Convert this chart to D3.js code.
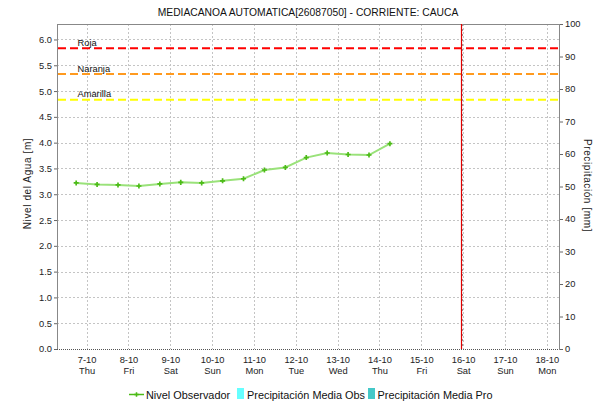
<!DOCTYPE html>
<html>
<head>
<meta charset="utf-8">
<script src="https://cdn.jsdelivr.net/npm/d3@7"></script>
<style>
  html, body { margin: 0; padding: 0; background: #fff; }
  svg { display: block; font-family: "Liberation Sans", Arial, sans-serif; }
</style>
</head>
<body>
<svg id="chart" width="593" height="404"></svg>
<script>
// Station level readings (every 12 h) and the alert thresholds
const readingTimes = [
  "2021-10-06 18:00", "2021-10-07 06:00", "2021-10-07 18:00", "2021-10-08 06:00",
  "2021-10-08 18:00", "2021-10-09 06:00", "2021-10-09 18:00", "2021-10-10 06:00",
  "2021-10-10 18:00", "2021-10-11 06:00", "2021-10-11 18:00", "2021-10-12 06:00",
  "2021-10-12 18:00", "2021-10-13 06:00", "2021-10-13 18:00", "2021-10-14 06:00"
];
const nivelObservador = [3.22, 3.19, 3.18, 3.16, 3.20, 3.23, 3.22, 3.26,
                         3.30, 3.47, 3.52, 3.71, 3.80, 3.77, 3.76, 3.98];

const alertNames = ["Roja", "Naranja", "Amarilla"];
const alertLevels = [5.83, 5.33, 4.83];
const alertColors = ["#ff0000", "#ff9a1f", "#ffff00"];

const tickDates = ["2021-10-07", "2021-10-08", "2021-10-09", "2021-10-10", "2021-10-11", "2021-10-12",
                   "2021-10-13", "2021-10-14", "2021-10-15", "2021-10-16", "2021-10-17", "2021-10-18"];
const tickDayLabels = ["7-10", "8-10", "9-10", "10-10", "11-10", "12-10",
                       "13-10", "14-10", "15-10", "16-10", "17-10", "18-10"];
const tickWeekdayLabels = ["Thu", "Fri", "Sat", "Sun", "Mon", "Tue",
                           "Wed", "Thu", "Fri", "Sat", "Sun", "Mon"];
const levelTicks = [0, 0.5, 1, 1.5, 2, 2.5, 3, 3.5, 4, 4.5, 5, 5.5, 6];
const precipTicks = [0, 10, 20, 30, 40, 50, 60, 70, 80, 90, 100];
const timeRange = ["2021-10-06 07:00", "2021-10-18 07:00"];
const nowMarker = "2021-10-15 22:50";

const legendItems = ["Nivel Observador", "Precipitación Media Obs", "Precipitación Media Pro"];
const legendColors = ["#4cbb17", "#66ffff", "#44c8c8"];

const parse = d3.timeParse("%Y-%m-%d %H:%M");
const parseDay = d3.timeParse("%Y-%m-%d");

const svg = d3.select("#chart");
const plot = { left: 57, right: 559, top: 24, bottom: 349 };

const x = d3.scaleTime().domain(timeRange.map(parse)).range([plot.left, plot.right]);
const y = d3.scaleLinear().domain([0, 6.3]).range([plot.bottom, plot.top]);
const y2 = d3.scaleLinear().domain([0, 100]).range([plot.bottom, plot.top]);

const ticks = tickDates.map(parseDay);

// Title
svg.append("text")
  .attr("x", 308).attr("y", 16)
  .attr("text-anchor", "middle")
  .attr("font-size", "10.3px")
  .attr("fill", "#111")
  .text("MEDIACANOA AUTOMATICA[26087050] - CORRIENTE: CAUCA");

// Grid
const grid = svg.append("g");
grid.selectAll("line.v").data(ticks).join("line")
  .attr("x1", d => Math.round(x(d)) + 0.5).attr("x2", d => Math.round(x(d)) + 0.5)
  .attr("y1", plot.top).attr("y2", plot.bottom)
  .attr("stroke", "#c4c4c4").attr("stroke-dasharray", "2,2");
grid.selectAll("line.h").data(levelTicks.filter(d => d > 0)).join("line")
  .attr("x1", plot.left).attr("x2", plot.right)
  .attr("y1", d => Math.round(y(d)) + 0.5).attr("y2", d => Math.round(y(d)) + 0.5)
  .attr("stroke", "#c4c4c4").attr("stroke-dasharray", "2,2");

// Frame: top, left, right solid; bottom dotted
svg.append("line").attr("x1", plot.left).attr("x2", plot.right)
  .attr("y1", plot.top + 0.5).attr("y2", plot.top + 0.5).attr("stroke", "#888");
svg.append("line").attr("x1", plot.left + 0.5).attr("x2", plot.left + 0.5)
  .attr("y1", plot.top).attr("y2", plot.bottom + 1).attr("stroke", "#888");
svg.append("line").attr("x1", plot.right + 0.5).attr("x2", plot.right + 0.5)
  .attr("y1", plot.top).attr("y2", plot.bottom + 1).attr("stroke", "#888");
svg.append("line").attr("x1", plot.left).attr("x2", plot.right)
  .attr("y1", plot.bottom + 0.5).attr("y2", plot.bottom + 0.5)
  .attr("stroke", "#555").attr("stroke-dasharray", "1,1");

// Alert thresholds
const alerts = svg.append("g");
alertLevels.forEach((lv, i) => {
  alerts.append("line")
    .attr("x1", plot.left + 1).attr("x2", plot.right)
    .attr("y1", y(lv)).attr("y2", y(lv))
    .attr("stroke", alertColors[i]).attr("stroke-width", 2)
    .attr("stroke-dasharray", "8,4");
  alerts.append("text")
    .attr("x", 77.5).attr("y", y(lv) - 2.5)
    .attr("font-size", "9.3px").attr("fill", "#111")
    .text(alertNames[i]);
});

// Current time marker
const nowX = Math.round(x(parse(nowMarker))) + 0.5;
svg.append("line")
  .attr("x1", nowX + 1).attr("x2", nowX + 1)
  .attr("y1", plot.top).attr("y2", plot.bottom)
  .attr("stroke", "#999").attr("stroke-dasharray", "2,3");
svg.append("line")
  .attr("x1", nowX).attr("x2", nowX)
  .attr("y1", plot.top).attr("y2", plot.bottom)
  .attr("stroke", "#e00000").attr("stroke-width", 1.2);

// Level series
const pts = readingTimes.map((t, i) => ({ t: parse(t), v: nivelObservador[i] }));
svg.append("path").datum(pts)
  .attr("fill", "none").attr("stroke", "#9ae27a").attr("stroke-width", 2)
  .attr("d", d3.line().x(d => x(d.t)).y(d => y(d.v)));
svg.selectAll("path.pt").data(pts).join("path")
  .attr("transform", d => `translate(${x(d.t)},${y(d.v)})`)
  .attr("fill", legendColors[0])
  .attr("d", d3.symbol(d3.symbolCross, 14)());

// Left axis
const axL = svg.append("g").attr("transform", `translate(${plot.left},0)`)
  .call(d3.axisLeft(y).tickValues(levelTicks).tickFormat(d3.format(".1f")).tickSize(3).tickSizeOuter(0).tickPadding(2));
axL.select(".domain").remove();
axL.selectAll(".tick line").attr("stroke", "#666");
axL.selectAll(".tick text").attr("font-size", "9.3px").attr("fill", "#222")
  .attr("font-family", "Liberation Sans, Arial, sans-serif");

// Right axis
const axR = svg.append("g").attr("transform", `translate(${plot.right + 1},0)`)
  .call(d3.axisRight(y2).tickValues(precipTicks).tickSize(3).tickSizeOuter(0).tickPadding(2));
axR.select(".domain").remove();
axR.selectAll(".tick line").attr("stroke", "#666");
axR.selectAll(".tick text").attr("font-size", "9.3px").attr("fill", "#222")
  .attr("font-family", "Liberation Sans, Arial, sans-serif");

// Bottom axis labels (date + weekday)
const axB = svg.append("g");
axB.selectAll("text.day").data(ticks).join("text")
  .attr("x", d => x(d) + 0.5).attr("y", 363)
  .attr("text-anchor", "middle").attr("font-size", "9.3px").attr("fill", "#222")
  .text((d, i) => tickDayLabels[i]);
axB.selectAll("text.wd").data(ticks).join("text")
  .attr("x", d => x(d) + 0.5).attr("y", 374)
  .attr("text-anchor", "middle").attr("font-size", "9.3px").attr("fill", "#222")
  .text((d, i) => tickWeekdayLabels[i]);

// Axis titles
svg.append("text")
  .attr("transform", `translate(31,${(plot.top + plot.bottom) / 2 - 3}) rotate(-90)`)
  .attr("text-anchor", "middle").attr("font-size", "10px").attr("letter-spacing", "0.6px")
  .attr("fill", "#222").text("Nivel del Agua [m]");
svg.append("text")
  .attr("transform", `translate(584,${(plot.top + plot.bottom) / 2 - 1}) rotate(90)`)
  .attr("text-anchor", "middle").attr("font-size", "10px").attr("letter-spacing", "0.6px")
  .attr("fill", "#222").text("Precipitación [mm]");

// Legend
const lg = svg.append("g");
lg.append("line").attr("x1", 129).attr("x2", 144).attr("y1", 394.5).attr("y2", 394.5)
  .attr("stroke", legendColors[0]).attr("stroke-width", 1.5);
lg.append("path").attr("transform", "translate(136.5,394.5)")
  .attr("fill", legendColors[0]).attr("d", d3.symbol(d3.symbolCross, 12)());
lg.append("text").attr("x", 146).attr("y", 398.5).attr("font-size", "10.9px").attr("fill", "#111")
  .text(legendItems[0]);
lg.append("rect").attr("x", 237).attr("y", 388).attr("width", 7).attr("height", 11)
  .attr("fill", legendColors[1]);
lg.append("text").attr("x", 247).attr("y", 398.5).attr("font-size", "10.9px").attr("fill", "#111")
  .text(legendItems[1]);
lg.append("rect").attr("x", 368).attr("y", 388).attr("width", 7).attr("height", 11)
  .attr("fill", legendColors[2]);
lg.append("text").attr("x", 377.5).attr("y", 398.5).attr("font-size", "10.9px").attr("fill", "#111")
  .text(legendItems[2]);
</script>
</body>
</html>
